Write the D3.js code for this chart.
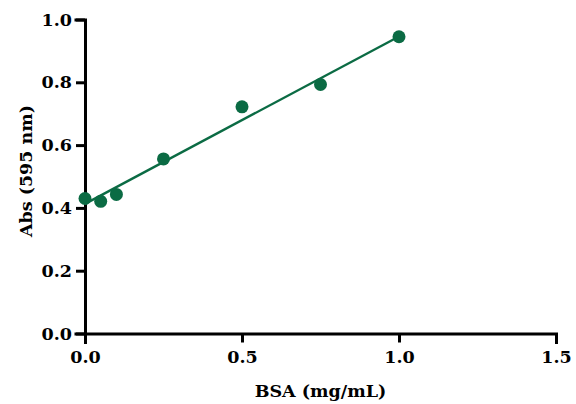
<!DOCTYPE html>
<html><head><meta charset="utf-8">
<script src="https://cdn.jsdelivr.net/npm/d3@7"></script>
<style>body{margin:0;background:#fff;} svg{display:block;}</style>
</head><body>
<script>
const bsa = [0, 0.05, 0.1, 0.25, 0.5, 0.75, 1.0];
const absorbance = [0.430, 0.421, 0.443, 0.556, 0.722, 0.793, 0.945];
const fitX = [0, 1.0];
const fitY = [0.413, 0.946];
const xTicks = [0, 0.5, 1.0, 1.5];
const yTicks = [0, 0.2, 0.4, 0.6, 0.8, 1.0];
const xTitle = "BSA (mg/mL)";
const yTitle = "Abs (595 nm)";

const W = 576, H = 404;
const green = "#0b6b44";
const font = "DejaVu Serif";
const svg = d3.select("body").append("svg").attr("width", W).attr("height", H);
const x = d3.scaleLinear().domain([0, 1.5]).range([85, 556]);
const y = d3.scaleLinear().domain([0, 1.0]).range([333.5, 19.5]);

const xAxis = svg.append("g").attr("transform", "translate(0,333.5)")
  .call(d3.axisBottom(x).tickValues(xTicks).tickFormat(d3.format(".1f")).tickSizeOuter(0).tickSize(9).tickPadding(8));
const yAxis = svg.append("g").attr("transform", "translate(85,0)")
  .call(d3.axisLeft(y).tickValues(yTicks).tickFormat(d3.format(".1f")).tickSizeOuter(0).tickSize(9).tickPadding(4));
[xAxis, yAxis].forEach(a => {
  a.attr("font-size", null).attr("font-family", null);
  a.select(".domain").attr("stroke", "#000").attr("stroke-width", 3).attr("stroke-linecap", "square");
  a.selectAll(".tick line").attr("stroke", "#000").attr("stroke-width", 3);
  a.selectAll(".tick text").attr("fill", "#000").attr("font-family", font).attr("font-weight", "bold").attr("font-size", 17.5);
});

const line = d3.line().x(d => x(d[0])).y(d => y(d[1]));
svg.append("path").datum(fitX.map((v, i) => [v, fitY[i]]))
  .attr("d", line).attr("fill", "none").attr("stroke", green).attr("stroke-width", 2.4);

svg.append("g").selectAll("circle").data(bsa.map((v, i) => [v, absorbance[i]])).join("circle")
  .attr("cx", d => x(d[0])).attr("cy", d => y(d[1])).attr("r", 6.5).attr("fill", green);

svg.append("text").attr("x", 320.5).attr("y", 397).attr("text-anchor", "middle")
  .attr("font-family", font).attr("font-weight", "bold").attr("font-size", 17.5).text(xTitle);
svg.append("text").attr("transform", "translate(32,171) rotate(-90)").attr("text-anchor", "middle")
  .attr("font-family", font).attr("font-weight", "bold").attr("font-size", 17.5).text(yTitle);
</script>
</body></html>
